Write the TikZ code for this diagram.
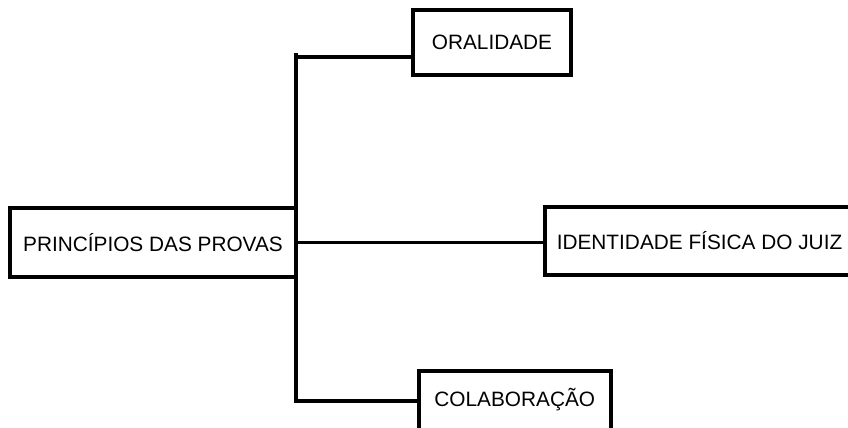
\documentclass[tikz,border=0pt]{standalone}
\usepackage{fontspec}
\setmainfont{Liberation Sans}
\begin{document}
\begin{tikzpicture}[x=1pt,y=1pt,
  box/.style={draw=black,line width=3.6pt,fill=white,inner sep=0pt,font=\fontsize{20.8}{24}\selectfont},
  conn/.style={draw=black,line width=3.6pt,line join=miter}]
\useasboundingbox (0,0) rectangle (848,428);
\clip (0,0) rectangle (848,428);
\fill[white] (0,0) rectangle (848,428);
% nodes
\node[box,minimum width=286pt,minimum height=69pt] (prin) at (153,185.5) {PRINCÍPIOS DAS PROVAS};
\node[box,minimum width=158pt,minimum height=65pt] (oral) at (492,385.5) {ORALIDADE};
\node[box,anchor=west,inner xsep=12pt,minimum height=68pt] (iden) at (543,187) {IDENTIDADE FÍSICA DO JUIZ};
\node[box,anchor=north west,minimum width=192pt,text height=35.5pt,text depth=33.5pt] (cola) at (417,59) {COLABORAÇÃO};
% junction coordinates
\coordinate (otop) at (296,375);
\coordinate (ojoin) at (oral.west |- 0,371);
\coordinate (cjoin) at (cola.west |- 0,27);
% connectors
\draw[conn] (prin.east) -- (prin.east -| iden.west);
\draw[conn] (otop) -- (otop |- cjoin) -- (cjoin);
\draw[conn] (otop |- ojoin) -- (ojoin);
\end{tikzpicture}
\end{document}
